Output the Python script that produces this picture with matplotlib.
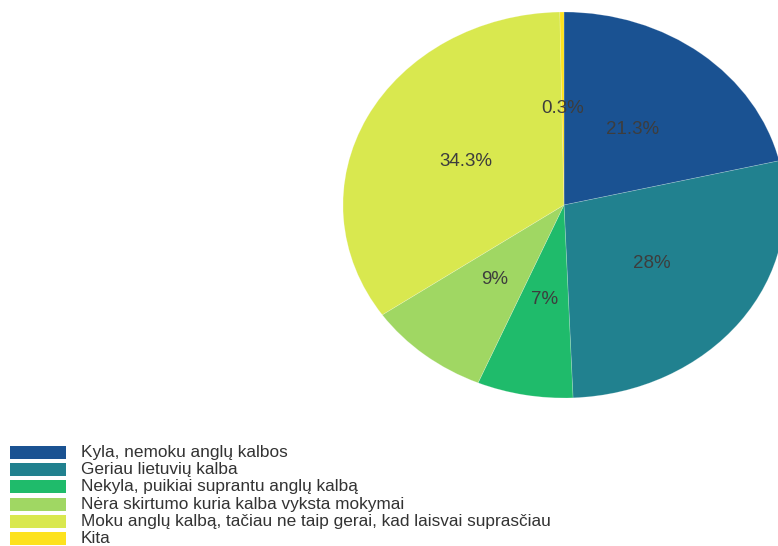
import matplotlib.pyplot as plt
from matplotlib.patches import Rectangle

plt.rcParams['font.family'] = ['Liberation Sans', 'DejaVu Sans']

categories = [
    "Kyla, nemoku anglų kalbos",
    "Geriau lietuvių kalba",
    "Nekyla, puikiai suprantu anglų kalbą",
    "Nėra skirtumo kuria kalba vyksta mokymai",
    "Moku anglų kalbą, tačiau ne taip gerai, kad laisvai suprasčiau",
    "Kita",
]
shares = [21.3, 28, 7, 9, 34.3, 0.3]
colors = ["#1a5292", "#21818f", "#1fbb6b", "#a0d763", "#d9e84f", "#fde21e"]


def fmt_pct(p):
    s = f"{p:.1f}"
    if s.endswith(".0"):
        s = s[:-2]
    return s + "%"


fig = plt.figure(figsize=(7.78, 5.46), dpi=100)

# pie is stretched horizontally in the reference, so no equal aspect
ax = fig.add_axes([343 / 778, 148 / 546, 442 / 778, 386 / 546])
wedges, texts, autotexts = ax.pie(
    shares,
    colors=colors,
    startangle=90,
    counterclock=False,
    autopct=fmt_pct,
    pctdistance=0.5,
    wedgeprops=dict(edgecolor=(1, 1, 1, 0.25), linewidth=0.5),
    textprops=dict(color="#3d3d3d", fontsize=13.5),
)
ax.set_aspect('auto')
ax.set_xlim(-1, 1)
ax.set_ylim(-1, 1)
ax.axis('off')

# legend rows in the lower left corner
row_y = 452
for name, col in zip(categories, colors):
    fig.patches.append(Rectangle(
        (10 / 778, (546 - row_y - 6.5) / 546), 56 / 778, 13 / 546,
        transform=fig.transFigure, facecolor=col, edgecolor='none'))
    fig.text(81 / 778, (546 - row_y) / 546, name, fontsize=12.4,
             color="#333333", va='center', ha='left')
    row_y += 17.4

fig.savefig("out.png", dpi=100)
